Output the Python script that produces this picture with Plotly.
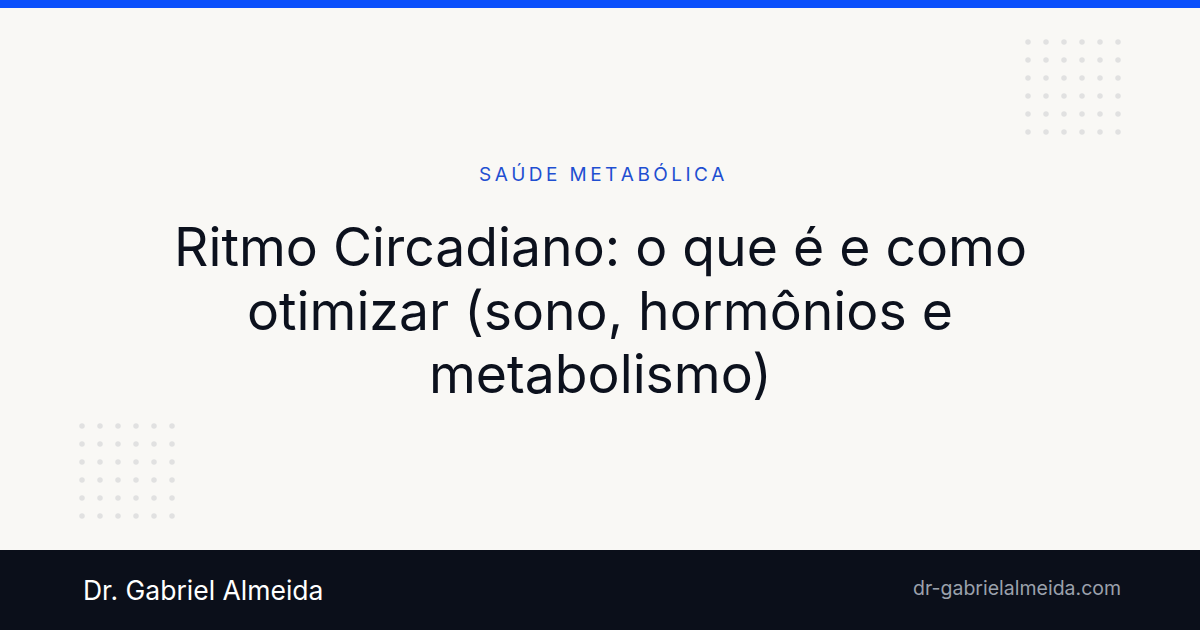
import plotly.graph_objects as go

# ---- content ----
category_label = "SAÚDE METABÓLICA"
title_lines = ["Ritmo Circadiano: o que é e como",
               "otimizar (sono, hormônios e",
               "metabolismo)"]
author_name = "Dr. Gabriel Almeida"
site_url = "dr-gabrielalmeida.com"

# decorative dot grids (6 x 6)
grid_cols = [0, 1, 2, 3, 4, 5]
grid_rows = [0, 1, 2, 3, 4, 5]

W, H = 1200, 630
BG = "#f9f8f5"
INK = "#0c111d"
BLUE = "#0b50fb"
CAT_BLUE = "#1f4fd1"
FOOT = "#0b0f1a"
DOT = "#e1e1e1"
FONT = "Inter"

def spaced(s, sep="\u2009"):
    return sep.join(list(s))

fig = go.Figure()

def dot_grid(x0, y0, step):
    xs, ys = [], []
    for r in grid_rows:
        for c in grid_cols:
            xs.append(x0 + c * step)
            ys.append(y0 + r * step)
    fig.add_trace(go.Scatter(x=xs, y=ys, mode="markers",
                             marker=dict(size=5.5, color=DOT, line=dict(width=0)),
                             hoverinfo="skip", showlegend=False))

dot_grid(1028, 42, 18)
dot_grid(82, 426, 18)

shapes = [
    dict(type="rect", xref="x", yref="y", x0=0, x1=W, y0=0, y1=8,
         fillcolor=BLUE, line=dict(width=0), layer="below"),
    dict(type="rect", xref="x", yref="y", x0=0, x1=W, y0=550, y1=H,
         fillcolor=FOOT, line=dict(width=0), layer="below"),
]

annotations = [
    dict(x=601, y=174, xref="x", yref="y", text=spaced(category_label),
         showarrow=False, xanchor="center", yanchor="middle",
         font=dict(family=FONT, size=19, color=CAT_BLUE)),
]
title_y = [246, 310, 373]
for line, yy in zip(title_lines, title_y):
    annotations.append(dict(x=600, y=yy, xref="x", yref="y", text=line,
                            showarrow=False, xanchor="center", yanchor="middle",
                            font=dict(family=FONT, size=53.5, color=INK)))
annotations.append(dict(x=81, y=590, xref="x", yref="y", text=author_name,
                        showarrow=False, xanchor="left", yanchor="middle",
                        font=dict(family=FONT, size=26.5, color="#ffffff")))
annotations.append(dict(x=1123, y=588, xref="x", yref="y", text=site_url,
                        showarrow=False, xanchor="right", yanchor="middle",
                        font=dict(family=FONT, size=19.5, color="#9ba1ac")))

fig.update_layout(
    width=W, height=H,
    margin=dict(l=0, r=0, t=0, b=0),
    paper_bgcolor=BG, plot_bgcolor=BG,
    shapes=shapes, annotations=annotations,
    xaxis=dict(range=[0, W], visible=False, fixedrange=True),
    yaxis=dict(range=[H, 0], visible=False, fixedrange=True),
    showlegend=False,
)

fig.write_html("out.html", config={"displayModeBar": False},
               post_script="document.body.style.margin='0';document.body.style.overflow='hidden';")
